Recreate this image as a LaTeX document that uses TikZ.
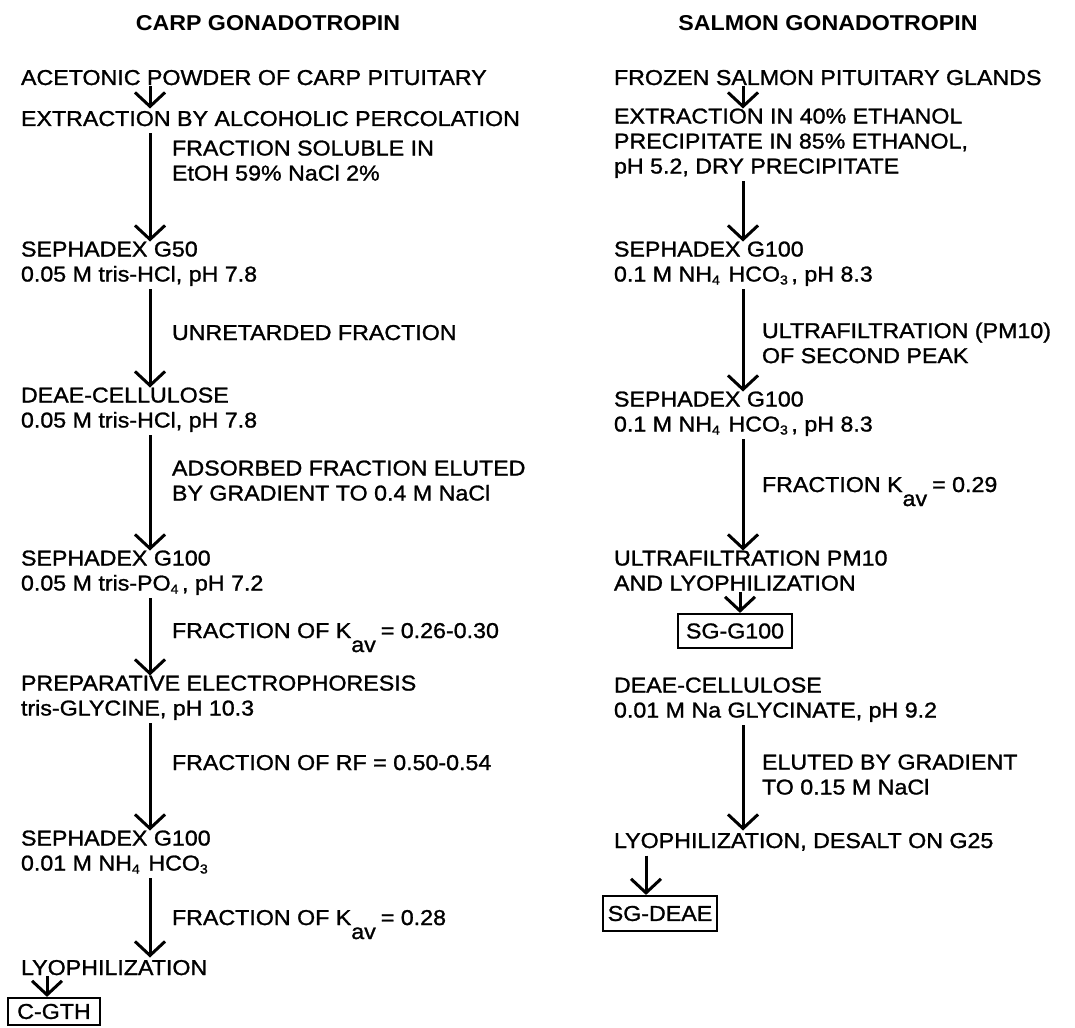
\documentclass[tikz,border=0pt]{standalone}
\usepackage{fontspec}
\setmainfont{Liberation Sans}[FakeStretch=1.08, UprightFeatures={FakeBold=1.2}]
\usetikzlibrary{arrows.meta}
\newcommand\bodyfont{\fontsize{21.5}{25}\selectfont}
\newcommand\chemsub[1]{\raisebox{-3pt}{\fontsize{13}{13}\selectfont #1}}
\newcommand\avsub{\raisebox{-14pt}{av}}
\begin{document}
\begin{tikzpicture}[x=1pt,y=-1pt,
  stepnode/.style={anchor=north west, inner sep=0pt, outer sep=0pt, align=left, font=\bodyfont,
    execute at begin node=\strut, execute at end node=\strut},
  notenode/.style={stepnode},
  titlenode/.style={anchor=base, inner sep=0pt, font=\bodyfont\bfseries},
  endbox/.style={draw, line width=2.2pt, inner sep=0pt, font=\bodyfont},
  flow/.style={line width=3pt, -{Straight Barb[length=14pt,width=30pt]}}]
\fill[white] (0,0) rectangle (1075,1027);
\useasboundingbox (0,0) rectangle (1075,1027);
% arrow columns
\coordinate (lx) at (150,0);
\coordinate (lxe) at (47,0);
\coordinate (rx) at (743,0);
\coordinate (rxa) at (740,0);
\coordinate (rxb) at (646,0);
% ---------------- left column ----------------
\node[titlenode] (ctitle) at (268,31) {CARP GONADOTROPIN};
\node[stepnode] (c1) at (21,67.5) {ACETONIC POWDER OF CARP PITUITARY};
\node[stepnode] (c2) at (21,108.5) {EXTRACTION BY ALCOHOLIC PERCOLATION};
\node[stepnode] (c3) at (21,241.5) {SEPHADEX G50\\0.05 M tris-HCl, pH 7.8};
\node[stepnode] (c4) at (21,387.5) {DEAE-CELLULOSE\\0.05 M tris-HCl, pH 7.8};
\node[stepnode] (c5) at (21,550.5) {SEPHADEX G100\\0.05 M tris-PO\chemsub{4}\,, pH 7.2};
\node[stepnode] (c6) at (21,675.5) {PREPARATIVE ELECTROPHORESIS\\tris-GLYCINE, pH 10.3};
\node[stepnode] (c7) at (21,830.5) {SEPHADEX G100\\0.01 M NH\chemsub{4}\hspace{0.4em}HCO\chemsub{3}};
\node[stepnode] (c8) at (21,957.5) {LYOPHILIZATION};
\node[endbox, minimum width=92pt, minimum height=27pt] (cgth) at (54,1011.5) {C-GTH};
\node[notenode] (cn1) at (172,140.5) {FRACTION SOLUBLE IN\\EtOH 59\% NaCl 2\%};
\node[notenode] (cn2) at (172,322.5) {UNRETARDED FRACTION};
\node[notenode] (cn3) at (172,460.5) {ADSORBED FRACTION ELUTED\\BY GRADIENT TO 0.4 M NaCl};
\node[notenode] (cn4) at (172,620.5) {FRACTION OF K\avsub\hspace{5pt}= 0.26-0.30};
\node[notenode] (cn5) at (172,752.5) {FRACTION OF RF = 0.50-0.54};
\node[notenode] (cn6) at (172,907.5) {FRACTION OF K\avsub\hspace{5pt}= 0.28};
\draw[flow, shorten <=-6pt] (c1.south -| lx) -- (c2.north -| lx);
\draw[flow] (c2.south -| lx) -- (c3.north -| lx);
\draw[flow] (c3.south -| lx) -- (c4.north -| lx);
\draw[flow] (c4.south -| lx) -- (c5.north -| lx);
\draw[flow] (c5.south -| lx) -- (c6.north -| lx);
\draw[flow] (c6.south -| lx) -- (c7.north -| lx);
\draw[flow] (c7.south -| lx) -- (c8.north -| lx);
\draw[flow, shorten <=-7pt] (c8.south -| lxe) -- (cgth.north -| lxe);
% ---------------- right column ----------------
\node[titlenode] (stitle) at (828,31) {SALMON GONADOTROPIN};
\node[stepnode] (s1) at (614,67.5) {FROZEN SALMON PITUITARY GLANDS};
\node[stepnode] (s2) at (614,108.5) {EXTRACTION IN 40\% ETHANOL\\PRECIPITATE IN 85\% ETHANOL,\\pH 5.2, DRY PRECIPITATE};
\node[stepnode] (s3) at (614,241.5) {SEPHADEX G100\\0.1 M NH\chemsub{4}\hspace{0.4em}HCO\chemsub{3}\,, pH 8.3};
\node[stepnode] (s4) at (614,391.5) {SEPHADEX G100\\0.1 M NH\chemsub{4}\hspace{0.4em}HCO\chemsub{3}\,, pH 8.3};
\node[stepnode] (s5) at (614,550.5) {ULTRAFILTRATION PM10\\AND LYOPHILIZATION};
\node[endbox, minimum width=114pt, minimum height=34pt] (sg1) at (735,631) {SG-G100};
\node[stepnode] (s6) at (614,677.5) {DEAE-CELLULOSE\\0.01 M Na GLYCINATE, pH 9.2};
\node[stepnode] (s7) at (614,830.5) {LYOPHILIZATION, DESALT ON G25};
\node[endbox, minimum width=114pt, minimum height=35pt] (sg2) at (660,913.5) {SG-DEAE};
\node[notenode] (sn1) at (762,322.5) {ULTRAFILTRATION (PM10)\\OF SECOND PEAK};
\node[notenode] (sn2) at (762,474.5) {FRACTION K\avsub\hspace{5pt}= 0.29};
\node[notenode] (sn3) at (762,754.5) {ELUTED BY GRADIENT\\TO 0.15 M NaCl};
\draw[flow, shorten <=-6pt] (s1.south -| rx) -- (s2.north -| rx);
\draw[flow] (s2.south -| rx) -- (s3.north -| rx);
\draw[flow] (s3.south -| rx) -- (s4.north -| rx);
\draw[flow] (s4.south -| rx) -- (s5.north -| rx);
\draw[flow, shorten <=-6pt] (s5.south -| rxa) -- (sg1.north -| rxa);
\draw[flow] (s6.south -| rx) -- (s7.north -| rx);
\draw[flow] (s7.south -| rxb) -- (sg2.north -| rxb);
\end{tikzpicture}
\end{document}
